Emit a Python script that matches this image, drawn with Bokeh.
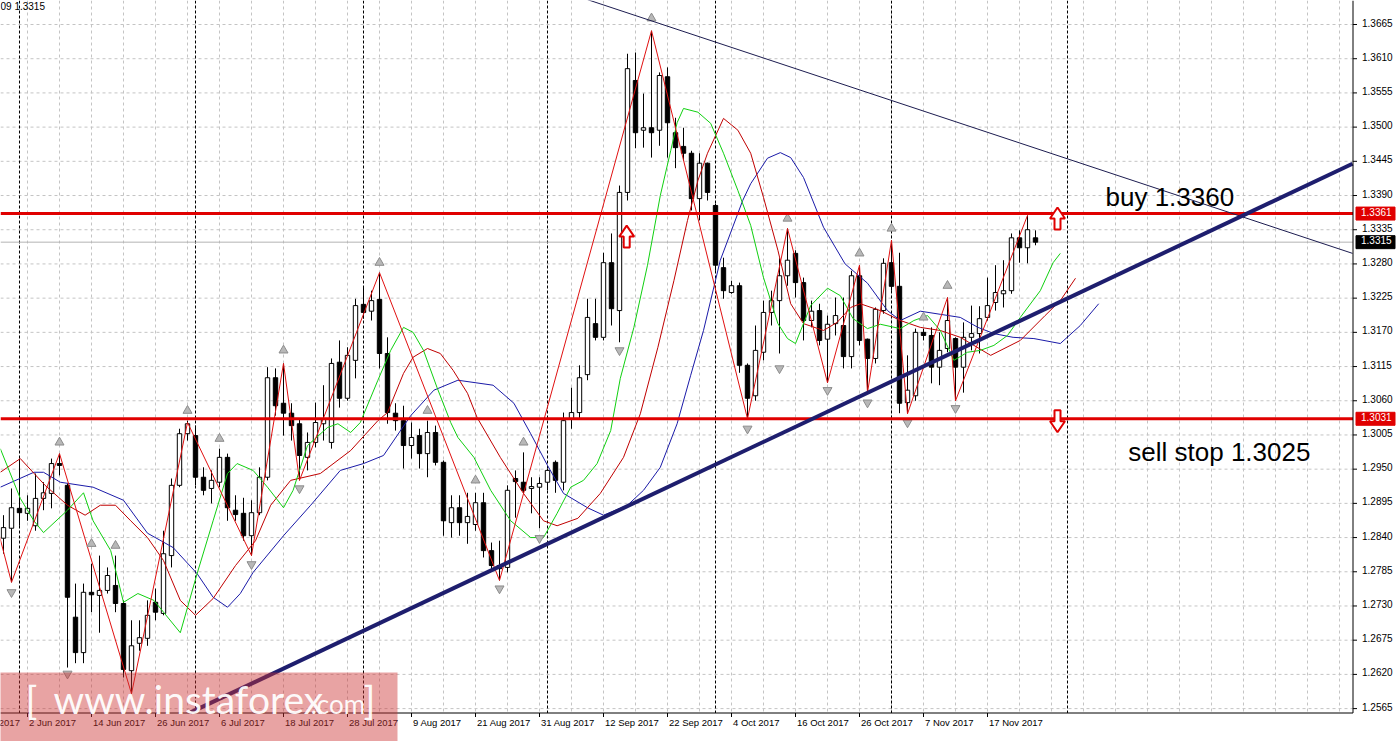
from bokeh.plotting import figure
from bokeh.models import Range1d
from bokeh.core.properties import value
from bokeh.embed import file_html
from bokeh.resources import INLINE

# ---------------- data (GBPUSD daily, bar index 0 = 31 May 2017) ----------------
opens = [1.2839,1.2855,1.2887,1.2879,1.2859,1.2903,1.2911,1.2959,1.2924,1.2712,
         1.2655,1.2752,1.2747,1.2755,1.2763,1.2734,1.2626,1.2670,1.2678,1.2736,
         1.2718,1.2811,1.2924,1.3007,1.3004,1.2937,1.2919,1.2929,1.2969,1.2884,
         1.2879,1.2843,1.2880,1.2937,1.3097,1.3056,1.3040,1.3023,1.2969,1.2993,
         1.3023,1.2993,1.3122,1.3064,1.3125,1.3215,1.3204,1.3223,1.3136,1.3040,
         1.3028,1.2988,1.3004,1.2975,1.3009,1.2961,1.2864,1.2888,1.2864,1.2861,
         1.2896,1.2819,1.2795,1.2792,1.2935,1.2929,1.2919,1.2921,1.2929,1.2961,
         1.2929,1.3031,1.3041,1.3102,1.3184,1.3162,1.3282,1.3205,1.3395,1.3575,
         1.3495,1.3499,1.3495,1.3581,1.3491,1.3469,1.3458,1.3385,1.3442,1.3374,
         1.3274,1.3234,1.3245,1.3117,1.3068,1.3138,1.3202,1.3221,1.3261,1.3297,
         1.3250,1.3189,1.3205,1.3159,1.3184,1.3181,1.3131,1.3261,1.3159,1.3128,
         1.3205,1.3282,1.3244,1.3057,1.3068,1.3170,1.3165,1.3114,1.3144,1.3160,
         1.3114,1.3162,1.3168,1.3194,1.3218,1.3232,1.3237,1.3322,1.3306,1.3322]
highs = [1.2876,1.2919,1.2967,1.2908,1.2943,1.2929,1.2967,1.2975,1.2927,1.2766,
         1.2766,1.2798,1.2811,1.2792,1.2811,1.2739,1.2707,1.2707,1.2739,1.2758,
         1.2851,1.2935,1.3015,1.3028,1.3020,1.2953,1.2948,1.2983,1.2975,1.2908,
         1.2904,1.2900,1.2953,1.3114,1.3112,1.3120,1.3056,1.3031,1.3009,1.3057,
         1.3085,1.3128,1.3157,1.3146,1.3224,1.3242,1.3237,1.3266,1.3162,1.3056,
         1.3052,1.3025,1.3015,1.3028,1.3020,1.2964,1.2908,1.2908,1.2912,1.2912,
         1.2912,1.2832,1.2835,1.2924,1.2948,1.2977,1.2937,1.2937,1.2951,1.2964,
         1.3041,1.3081,1.3117,1.3224,1.3224,1.3298,1.3329,1.3406,1.3618,1.3620,
         1.3554,1.3655,1.3588,1.3596,1.3515,1.3499,1.3462,1.3458,1.3443,1.3377,
         1.3290,1.3253,1.3250,1.3120,1.3181,1.3221,1.3237,1.3289,1.3337,1.3302,
         1.3258,1.3221,1.3216,1.3197,1.3226,1.3226,1.3269,1.3278,1.3160,1.3210,
         1.3289,1.3318,1.3298,1.3133,1.3176,1.3176,1.3178,1.3170,1.3226,1.3162,
         1.3186,1.3213,1.3212,1.3258,1.3278,1.3286,1.3329,1.3334,1.3358,1.3334]
lows = [1.2814,1.2768,1.2859,1.2867,1.2851,1.2884,1.2887,1.2940,1.2631,1.2638,
        1.2638,1.2720,1.2687,1.2750,1.2720,1.2615,1.2589,1.2658,1.2666,1.2707,
        1.2715,1.2792,1.2921,1.2996,1.2924,1.2908,1.2895,1.2921,1.2867,1.2867,
        1.2835,1.2811,1.2876,1.2932,1.3036,1.3004,1.2996,1.2932,1.2948,1.2985,
        1.2996,1.2983,1.3049,1.3060,1.3096,1.3192,1.3189,1.3112,1.3023,1.3012,
        1.2951,1.2967,1.2951,1.2937,1.2956,1.2843,1.2840,1.2843,1.2830,1.2851,
        1.2808,1.2787,1.2771,1.2784,1.2872,1.2911,1.2879,1.2855,1.2916,1.2912,
        1.2916,1.3015,1.3031,1.3093,1.3157,1.3157,1.3181,1.3154,1.3382,1.3466,
        1.3467,1.3451,1.3470,1.3451,1.3434,1.3446,1.3366,1.3350,1.3382,1.3269,
        1.3224,1.3232,1.3105,1.3031,1.3060,1.3125,1.3181,1.3136,1.3245,1.3226,
        1.3157,1.3178,1.3149,1.3089,1.3165,1.3112,1.3112,1.3149,1.3073,1.3120,
        1.3200,1.3237,1.3040,1.3040,1.3060,1.3157,1.3088,1.3085,1.3138,1.3060,
        1.3073,1.3141,1.3136,1.3189,1.3205,1.3210,1.3232,1.3282,1.3281,1.3310]
closes = [1.2856,1.2888,1.2880,1.2887,1.2903,1.2912,1.2959,1.2956,1.2744,1.2655,
          1.2752,1.2748,1.2755,1.2779,1.2734,1.2628,1.2666,1.2679,1.2715,1.2720,
          1.2814,1.2924,1.3007,1.3023,1.2937,1.2916,1.2932,1.2969,1.2888,1.2877,
          1.2843,1.2880,1.2937,1.3097,1.3052,1.3040,1.3020,1.2972,1.2993,1.3025,
          1.3031,1.3120,1.3064,1.3133,1.3213,1.3202,1.3221,1.3136,1.3041,1.3028,
          1.2988,1.3001,1.2975,1.3009,1.2961,1.2867,1.2888,1.2864,1.2874,1.2896,
          1.2819,1.2795,1.2790,1.2916,1.2930,1.2916,1.2922,1.2927,1.2948,1.2932,
          1.3028,1.3041,1.3097,1.3194,1.3162,1.3282,1.3208,1.3395,1.3594,1.3491,
          1.3499,1.3491,1.3583,1.3507,1.3467,1.3458,1.3385,1.3442,1.3395,1.3278,
          1.3237,1.3245,1.3117,1.3064,1.3141,1.3202,1.3221,1.3261,1.3286,1.3250,
          1.3189,1.3204,1.3157,1.3183,1.3197,1.3131,1.3261,1.3157,1.3128,1.3207,
          1.3281,1.3244,1.3056,1.3077,1.3170,1.3165,1.3114,1.3141,1.3189,1.3114,
          1.3162,1.3168,1.3192,1.3213,1.3234,1.3237,1.3322,1.3306,1.3335,1.3315]

# Alligator lines: jaw (blue), teeth (red), lips (green)
jaw_bars = [-0.4,3.8,5.0,7.1,11.2,15.0,18.0,21.2,24.2,26.2,28.0,29.6,31.2,35.0,38.4,42.1,45.0,47.5,
            50.9,53.8,56.8,61.2,63.8,65.9,68.0,70.0,73.0,75.0,78.0,80.0,82.1,84.2,85.9,87.5,89.6,
            92.4,93.4,95.5,97.1,98.4,100.0,102.5,105.2,108.0,110.5,112.1,114.6,117.1,119.6,121.8,
            123.8,126.2,128.8,132.1,134.6,136.9]
jaw_vals = [1.2921,1.2945,1.2945,1.2929,1.2921,1.2900,1.2847,1.2824,1.2782,1.2744,1.2728,1.2750,1.2784,
            1.2843,1.2892,1.2948,1.2959,1.2972,1.3036,1.3077,1.3093,1.3085,1.3056,1.3007,1.2956,1.2911,
            1.2888,1.2876,1.2892,1.2916,1.2953,1.3023,1.3101,1.3173,1.3286,1.3382,1.3409,1.3450,1.3459,
            1.3451,1.3419,1.3339,1.3280,1.3249,1.3205,1.3189,1.3204,1.3199,1.3194,1.3178,1.3168,1.3162,
            1.3160,1.3152,1.3181,1.3216]
teeth_bars = [-0.4,2.1,5.2,8.0,10.2,12.1,14.0,15.9,18.0,20.0,22.1,24.0,26.2,29.0,31.5,33.4,35.9,39.6,
              43.4,46.8,48.0,50.0,51.2,53.0,54.6,56.2,58.0,59.2,62.1,65.0,67.5,69.2,71.8,74.6,77.5,
              79.6,81.8,83.8,85.5,86.8,88.0,90.0,91.8,93.4,95.0,96.8,98.4,100.0,102.5,104.2,105.9,
              107.1,109.6,112.1,114.6,117.1,119.6,123.4,127.1,130.2,132.1,134.0]
teeth_vals = [1.2945,1.2967,1.2924,1.2892,1.2876,1.2892,1.2892,1.2867,1.2840,1.2803,1.2739,1.2715,
              1.2742,1.2795,1.2835,1.2892,1.2932,1.2943,1.2980,1.3028,1.3041,1.3104,1.3130,1.3144,
              1.3136,1.3109,1.3072,1.3033,1.2969,1.2911,1.2867,1.2859,1.2871,1.2911,1.2969,1.3039,
              1.3146,1.3253,1.3350,1.3414,1.3458,1.3514,1.3495,1.3458,1.3387,1.3302,1.3216,1.3184,
              1.3173,1.3186,1.3210,1.3216,1.3205,1.3189,1.3178,1.3173,1.3162,1.3133,1.3157,1.3197,
              1.3221,1.3257]
lips_bars = [-0.4,2.1,3.8,5.0,8.0,10.0,11.2,13.4,15.0,16.8,18.8,22.1,24.2,26.2,28.0,29.2,31.2,33.0,
             35.0,36.2,38.0,40.5,41.8,43.4,44.6,46.8,48.4,50.0,51.2,52.5,54.2,55.9,56.8,58.8,60.9,
             63.4,65.9,67.5,69.2,70.9,72.5,74.2,75.9,77.1,78.8,80.5,82.1,83.4,84.2,85.0,86.8,88.4,
             90.0,91.8,93.4,95.0,96.8,98.0,99.0,100.9,103.0,104.6,106.2,108.0,109.6,112.1,113.8,
             115.5,117.1,118.8,120.5,122.1,123.8,125.5,127.1,129.6,131.2,132.1]
lips_vals = [1.2983,1.2903,1.2867,1.2848,1.2884,1.2912,1.2867,1.2819,1.2736,1.2750,1.2739,1.2687,
             1.2782,1.2867,1.2943,1.2959,1.2948,1.2921,1.2888,1.2916,1.2988,1.3017,1.3023,1.3009,
             1.3025,1.3093,1.3141,1.3178,1.3170,1.3141,1.3081,1.3025,1.3001,1.2969,1.2916,1.2867,
             1.2840,1.2840,1.2879,1.2921,1.2932,1.2959,1.3012,1.3096,1.3178,1.3278,1.3390,1.3462,
             1.3507,1.3530,1.3524,1.3506,1.3458,1.3398,1.3342,1.3258,1.3184,1.3160,1.3152,1.3213,
             1.3241,1.3229,1.3192,1.3176,1.3183,1.3176,1.3189,1.3197,1.3173,1.3125,1.3138,1.3141,
             1.3149,1.3165,1.3194,1.3237,1.3282,1.3297]

# ZigZag vertices
zz_bars = [-1,1,7,16,23,31,35,37,47,62,81,93,98,103,107,108,111,113,118,119,128]
zz_vals = [1.2867,1.2768,1.2975,1.2589,1.3025,1.2811,1.3120,1.2932,1.3266,1.2771,1.3655,1.3031,
           1.3337,1.3089,1.3278,1.3073,1.3318,1.3039,1.3226,1.3060,1.3358]

# Fractals
frac_up_bars = [7,11,14,23,27,35,47,53,59,65,81,98,107,111,115,118]
frac_up_vals = [1.2993,1.2830,1.2827,1.3044,1.2999,1.3141,1.3282,1.3044,1.2932,1.2993,1.3675,
                1.3353,1.3297,1.3337,1.3194,1.3245]
frac_dn_bars = [1,8,31,37,62,67,77,93,97,103,108,113,119]
frac_dn_vals = [1.2752,1.2621,1.2797,1.2919,1.2758,1.2839,1.3141,1.3015,1.3112,1.3077,1.3057,
                1.3025,1.3048]

# Trend lines (two anchors each)
trend_up_bars = [23.4, 168.625]
trend_up_vals = [1.2559, 1.3441]
trend_dn_bars = [73, 168.625]
trend_dn_vals = [1.3705, 1.3297]

# Levels
buy_level = 1.3361
sell_level = 1.3031
last_price = 1.3315

# Scale labels
y_ticks = [1.2565,1.2620,1.2675,1.2730,1.2785,1.2840,1.2895,1.2950,1.3005,1.3060,1.3115,
           1.3170,1.3225,1.3280,1.3335,1.3390,1.3445,1.3500,1.3555,1.3610,1.3665]
date_bars = [-5,3,11,19,27,35,43,51,59,67,75,83,91,99,107,115,123]
date_labels = ["24 May 2017","2 Jun 2017","14 Jun 2017","26 Jun 2017","6 Jul 2017","18 Jul 2017",
               "28 Jul 2017","9 Aug 2017","21 Aug 2017","31 Aug 2017","12 Sep 2017","22 Sep 2017",
               "4 Oct 2017","16 Oct 2017","26 Oct 2017","7 Nov 2017","17 Nov 2017"]
month_start_bars = [2,24,45,68,89,111,133]
grid_bars = list(range(-1, 169, 4))

# ---------------- layout constants ----------------
W, H = 1398, 741
PX_BAR = 8.0                       # pixels per bar
X0 = -0.375
X1 = X0 + W / PX_BAR
Y1 = 1.37036
PX_PRICE = 6219.0                  # pixels per price unit
Y0 = Y1 - H / PX_PRICE
px_x = 1.0 / PX_BAR
px_y = 1.0 / PX_PRICE
AX_X = 168.6875                    # right scale line (bar units)
AX_Y = Y1 - 712.5 * px_y           # time scale line (price units)
FONT = value("Liberation Sans")

p = figure(frame_width=W, frame_height=H, x_range=Range1d(X0, X1), y_range=Range1d(Y0, Y1),
           x_axis_location=None, y_axis_location=None, output_backend="svg",
           toolbar_location=None, min_border=0, outline_line_color=None,
           background_fill_color="white", border_fill_color="white")
p.grid.visible = False

# grid
p.segment(x0=[X0] * len(y_ticks), y0=y_ticks, x1=[AX_X] * len(y_ticks), y1=y_ticks,
          line_color="#c4c4c4", line_dash="3 3", line_width=1)
p.segment(x0=grid_bars, y0=[Y1] * len(grid_bars), x1=grid_bars, y1=[AX_Y] * len(grid_bars),
          line_color="#c4c4c4", line_dash="3 3", line_width=1)
p.segment(x0=month_start_bars, y0=[Y1] * len(month_start_bars), x1=month_start_bars,
          y1=[AX_Y] * len(month_start_bars), line_color="black", line_dash="3 2", line_width=1)
# current price line
p.segment(x0=[X0], y0=[last_price], x1=[AX_X], y1=[last_price], line_color="#b4b4b4", line_width=1)

# ---------------- candles ----------------
bars = list(range(len(opens)))
p.segment(x0=bars, y0=lows, x1=bars, y1=highs, line_color="black", line_width=1)
up = [i for i in bars if closes[i] >= opens[i]]
dn = [i for i in bars if closes[i] < opens[i]]
p.vbar(x=up, width=0.55, top=[closes[i] for i in up], bottom=[opens[i] for i in up],
       fill_color="white", line_color="black", line_width=1)
p.vbar(x=dn, width=0.55, top=[opens[i] for i in dn], bottom=[closes[i] for i in dn],
       fill_color="black", line_color="black", line_width=1)

# ---------------- indicators ----------------
p.line(jaw_bars, jaw_vals, line_color="#1a1aa8", line_width=1)
p.line(teeth_bars, teeth_vals, line_color="#c00000", line_width=1)
p.line(lips_bars, lips_vals, line_color="#10d010", line_width=1)
p.line(zz_bars, zz_vals, line_color="#e01010", line_width=1)

p.scatter(frac_up_bars, frac_up_vals, marker="triangle", size=9,
          fill_color="#b8b8b8", line_color="#8c8c8c")
p.scatter(frac_dn_bars, frac_dn_vals, marker="inverted_triangle", size=9,
          fill_color="#b8b8b8", line_color="#8c8c8c")

# ---------------- levels and trend lines ----------------
p.segment(x0=[X0, X0], y0=[buy_level, sell_level], x1=[AX_X, AX_X], y1=[buy_level, sell_level],
          line_color="#e00000", line_width=3)
p.line(trend_dn_bars, trend_dn_vals, line_color="#1c1c50", line_width=1)
p.line(trend_up_bars, trend_up_vals, line_color="#1e1e6e", line_width=4)

# hollow arrows
arrow_up_bars = [77.9, 131.75]
arrow_up_vals = [1.3324, 1.3353]
arrow_dn_bars = [131.75]
arrow_dn_vals = [1.3027]
shape = [(0, 11), (7.5, 0), (3, 0), (3, -11), (-3, -11), (-3, 0), (-7.5, 0)]
xs, ys = [], []
for b, v in zip(arrow_up_bars, arrow_up_vals):
    xs.append([b + dx * px_x for dx, dy in shape])
    ys.append([v + dy * px_y for dx, dy in shape])
for b, v in zip(arrow_dn_bars, arrow_dn_vals):
    xs.append([b + dx * px_x for dx, dy in shape])
    ys.append([v - dy * px_y for dx, dy in shape])
p.patches(xs, ys, fill_color="white", line_color="#e00000", line_width=2)

# ---------------- scales (drawn in MT4 style) ----------------
# right price scale
p.segment(x0=[AX_X], y0=[Y1], x1=[AX_X], y1=[AX_Y], line_color="black", line_width=1)
p.segment(x0=[AX_X] * len(y_ticks), y0=y_ticks, x1=[AX_X + 4 * px_x] * len(y_ticks), y1=y_ticks,
          line_color="black", line_width=1)
p.text(x=[AX_X + 9 * px_x] * len(y_ticks), y=[t + 2 * px_y for t in y_ticks],
       text=["%.4f" % t for t in y_ticks],
       text_font=FONT, text_font_size="10px", text_baseline="middle", text_align="left",
       text_color="black")
# time scale
p.segment(x0=[X0], y0=[AX_Y], x1=[AX_X], y1=[AX_Y], line_color="black", line_width=1)
p.segment(x0=date_bars, y0=[AX_Y] * len(date_bars), x1=date_bars,
          y1=[AX_Y - 4 * px_y] * len(date_bars), line_color="black", line_width=1)
p.text(x=[b + 1.5 * px_x for b in date_bars], y=[AX_Y - 9 * px_y] * len(date_bars),
       text=date_labels, text_font=FONT, text_font_size="9.5px", text_baseline="middle",
       text_align="left", text_color="black")

# price boxes on the right scale
box_vals = [buy_level, last_price, sell_level]
box_cols = ["#e00000", "black", "#e00000"]
p.quad(left=[AX_X + 3 * px_x] * 3, right=[AX_X + 42 * px_x] * 3,
       top=[v + 6.5 * px_y for v in box_vals], bottom=[v - 6.5 * px_y for v in box_vals],
       fill_color=box_cols, line_color=box_cols)
p.text(x=[AX_X + 8 * px_x] * 3, y=[v + 2 * px_y for v in box_vals],
       text=["%.4f" % v for v in box_vals],
       text_font=FONT, text_font_size="10px", text_baseline="middle", text_align="left",
       text_color="white")

# ---------------- texts ----------------
p.text(x=[X0], y=[Y1], text=["09 1.3315"], text_font=FONT, text_font_size="10px",
       text_baseline="top", text_align="left", text_color="black")
p.text(x=[137.75, 140.6], y=[1.3388, 1.2978], text=["buy 1.3360", "sell stop 1.3025"],
       text_font=FONT, text_font_size="26px", text_baseline="alphabetic", text_align="left",
       text_color="black")

# watermark (drawn over the time scale, as in the source)
p.quad(left=[-1], right=[49.25], top=[1.2623], bottom=[Y0 - 0.01],
       fill_color="#cc3333", fill_alpha=0.45, line_alpha=0)
p.text(x=[2.75, 6.25, 45.0], y=[1.2581] * 3, text=["[", "www.instaforex", "]"],
       text_font=value("Lato"), text_font_size="39px", text_color="white", text_alpha=0.95,
       text_baseline="alphabetic", text_align="left")
p.text(x=[38.4], y=[1.2573], text=[".com"], text_font=value("Lato"), text_font_size="26px",
       text_color="white", text_alpha=0.95, text_baseline="alphabetic", text_align="left")

open("out.html", "w").write(file_html(p, INLINE))
